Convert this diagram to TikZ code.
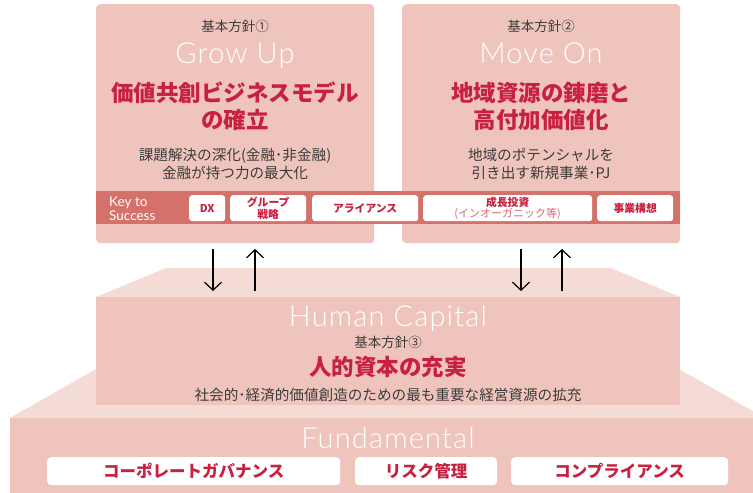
\documentclass[tikz,border=0pt]{standalone}
\usepackage{fontspec}
\setmainfont{Noto Sans CJK JP}
\newfontfamily\lightfont{Lato Light}[LetterSpace=4]
\newfontfamily\latinfont{Lato}
\usetikzlibrary{arrows.meta}
\definecolor{panelfill}{HTML}{EFC4BD}
\definecolor{lightfill}{HTML}{F5DBD5}
\definecolor{bandfill}{HTML}{D4716B}
\definecolor{accent}{HTML}{C8203F}
\definecolor{softaccent}{HTML}{D66A78}
\definecolor{greytext}{HTML}{3C3C3C}
\begin{document}
\begin{tikzpicture}[x=1pt,y=-1pt,
  panel/.style={fill=panelfill,draw=none,rounded corners=4pt,inner sep=0pt,anchor=north west},
  flat/.style={fill=panelfill,draw=none,inner sep=0pt,anchor=north west},
  band/.style={fill=bandfill,draw=none,inner sep=0pt,anchor=north west},
  keybox/.style={fill=white,draw=none,rounded corners=3pt,inner sep=0pt,anchor=north west,minimum height=26pt,text=accent,font=\fontsize{10.8}{11.5}\selectfont\bfseries,align=center},
  basebox/.style={fill=white,draw=none,rounded corners=4pt,inner sep=0pt,anchor=north west,minimum height=28pt,text=accent,font=\fontsize{16.5}{18}\selectfont\bfseries},
  tag/.style={text=greytext,font=\fontsize{13.5}{15}\selectfont,inner sep=0pt},
  title/.style={text=white,font=\lightfont\fontsize{29}{31}\selectfont,inner sep=0pt,anchor=base},
  heading/.style={text=accent,font=\fontsize{22.5}{27}\selectfont\bfseries,inner sep=0pt,align=center},
  body/.style={text=greytext,font=\fontsize{14.6}{18}\selectfont,inner sep=0pt,align=center},
  flow/.style={draw=black,line width=1.2pt,-{Straight Barb[length=8pt,width=17pt]}}
]
\useasboundingbox (0,0) rectangle (753,493);
\clip (0,0) rectangle (753,493);

% Fundamental level
\fill[lightfill] (96,369) -- (679,369) -- (765,418) -- (10,418) -- cycle;
\node[flat,minimum width=755pt,minimum height=90pt] (fund) at (10,418) {};
\node[title] (fundt) at (388,448) {Fundamental};
\node[basebox,minimum width=293pt] (cg) at (47,457) {コーポレートガバナンス};
\node[basebox,minimum width=142pt] (risk) at (355,457) {リスク管理};
\node[basebox,minimum width=217pt] (comp) at (511,457) {コンプライアンス};

% Human capital level
\fill[lightfill] (166,268) -- (611,268) -- (680,297) -- (96,297) -- cycle;
\node[flat,minimum width=584pt,minimum height=108pt] (hc) at (96,297) {};
\node[title] (hct) at (388,326) {Human Capital};
\node[tag] (hctag) at (388,342) {基本方針③};
\node[heading] (hch) at (388,367) {人的資本の充実};
\node[body] (hcb) at (388,395) {社会的･経済的価値創造のための最も重要な経営資源の拡充};

% Top panels
\node[panel,minimum width=278pt,minimum height=239pt] (gp) at (96,4) {};
\node[panel,minimum width=278pt,minimum height=239pt] (mo) at (402,4) {};

\node[tag] (gptag) at (235,26) {基本方針①};
\node[title] (gpt) at (235,63) {Grow Up};
\node[heading] (gph) at (235,106) {価値共創ビジネスモデル\\の確立};
\node[body] (gpb) at (235,164) {課題解決の深化(金融･非金融)\\金融が持つ力の最大化};

\node[tag] (motag) at (541,26) {基本方針②};
\node[title] (mot) at (541,63) {Move On};
\node[heading] (moh) at (541,106) {地域資源の錬磨と\\高付加価値化};
\node[body] (mob) at (541,164) {地域のポテンシャルを\\引き出す新規事業･PJ};

% Key to Success band
\node[band,minimum width=584pt,minimum height=33pt] (ks) at (96,191) {};
\node[anchor=west,inner sep=0pt,text=white,align=left,font=\latinfont\fontsize{13.5}{14.5}\selectfont] (kst) at (109,208.5) {Key to\\Success};
\node[keybox,minimum width=36pt] (dx) at (189,195) {DX};
\node[keybox,minimum width=76pt] (grp) at (230,195) {グループ\\戦略};
\node[keybox,minimum width=106pt] (all) at (312,195) {アライアンス};
\node[keybox,minimum width=169pt] (inv) at (423,195) {成長投資\\{\mdseries\fontsize{11}{11.5}\selectfont\color{softaccent}(インオーガニック等)}};
\node[keybox,minimum width=76pt] (biz) at (597,195) {事業構想};

% Arrows
\coordinate (d1s) at (213,249); \coordinate (d1e) at (213,291);
\coordinate (u1s) at (255,291); \coordinate (u1e) at (255,249);
\coordinate (d2s) at (521,249); \coordinate (d2e) at (521,291);
\coordinate (u2s) at (562,291); \coordinate (u2e) at (562,249);
\draw[flow] (d1s) -- (d1e);
\draw[flow] (u1s) -- (u1e);
\draw[flow] (d2s) -- (d2e);
\draw[flow] (u2s) -- (u2e);
\end{tikzpicture}
\end{document}
